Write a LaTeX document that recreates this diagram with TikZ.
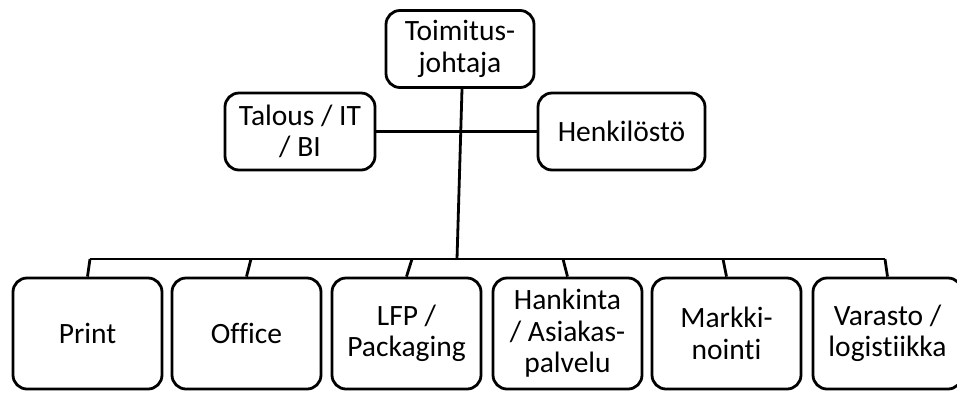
\documentclass[tikz,border=0pt]{standalone}
\usepackage{fontspec}
\setmainfont[Ligatures={NoCommon}]{Carlito}
\begin{document}
\begin{tikzpicture}[x=1pt,y=-1pt,
  box/.style={draw=black, line width=2.8pt, rounded corners=14pt, fill=white,
    align=center, inner sep=0pt, font=\fontsize{29.5}{31.5}\selectfont},
  topbox/.style={box, minimum width=148pt, minimum height=77pt},
  unitbox/.style={box, minimum width=149pt, minimum height=111pt},
  link/.style={draw=black, line width=2.8pt}]
\useasboundingbox (0,0) rectangle (957,392);
\clip (0,0) rectangle (957,392);

% management level
\node[topbox] (ceo) at (460,49) {Toimitus-\\johtaja};
\node[topbox, minimum width=150pt] (fin) at (300,131.5) {Talous / IT\\/ BI};
\node[topbox, minimum width=167pt] (hr) at (621.5,131.5) {Henkilöstö};

% business units
\node[unitbox] (print) at (87.5,333.5) {Print};
\node[unitbox] (office) at (246.5,333.5) {Office};
\node[unitbox] (lfp) at (406.5,333.5) {LFP /\\Packaging};
\node[unitbox] (purch) at (567.5,333.5) {Hankinta\\/ Asiakas-\\palvelu};
\node[unitbox] (mark) at (726.5,333.5) {Markki-\\nointi};
\node[unitbox] (stock) at (887.5,333.5) {Varasto /\\logistiikka};

% bus points
\coordinate (trunk) at (457,259);
\coordinate (b1) at (90,259);
\coordinate (b2) at (251,259);
\coordinate (b3) at (412,259);
\coordinate (b4) at (563,259);
\coordinate (b5) at (723,259);
\coordinate (b6) at (885,259);

% connectors
\draw[link] ([xshift=2pt]ceo.south) -- (trunk);
\draw[link] (fin.east) -- (hr.west);
\draw[link] (b1) -- (b6);
\draw[link] (b1) -- (print.north);
\draw[link] (b2) -- (office.north);
\draw[link] (b3) -- (lfp.north);
\draw[link] (b4) -- (purch.north);
\draw[link] (b5) -- (mark.north);
\draw[link] (b6) -- (stock.north);
\end{tikzpicture}
\end{document}
